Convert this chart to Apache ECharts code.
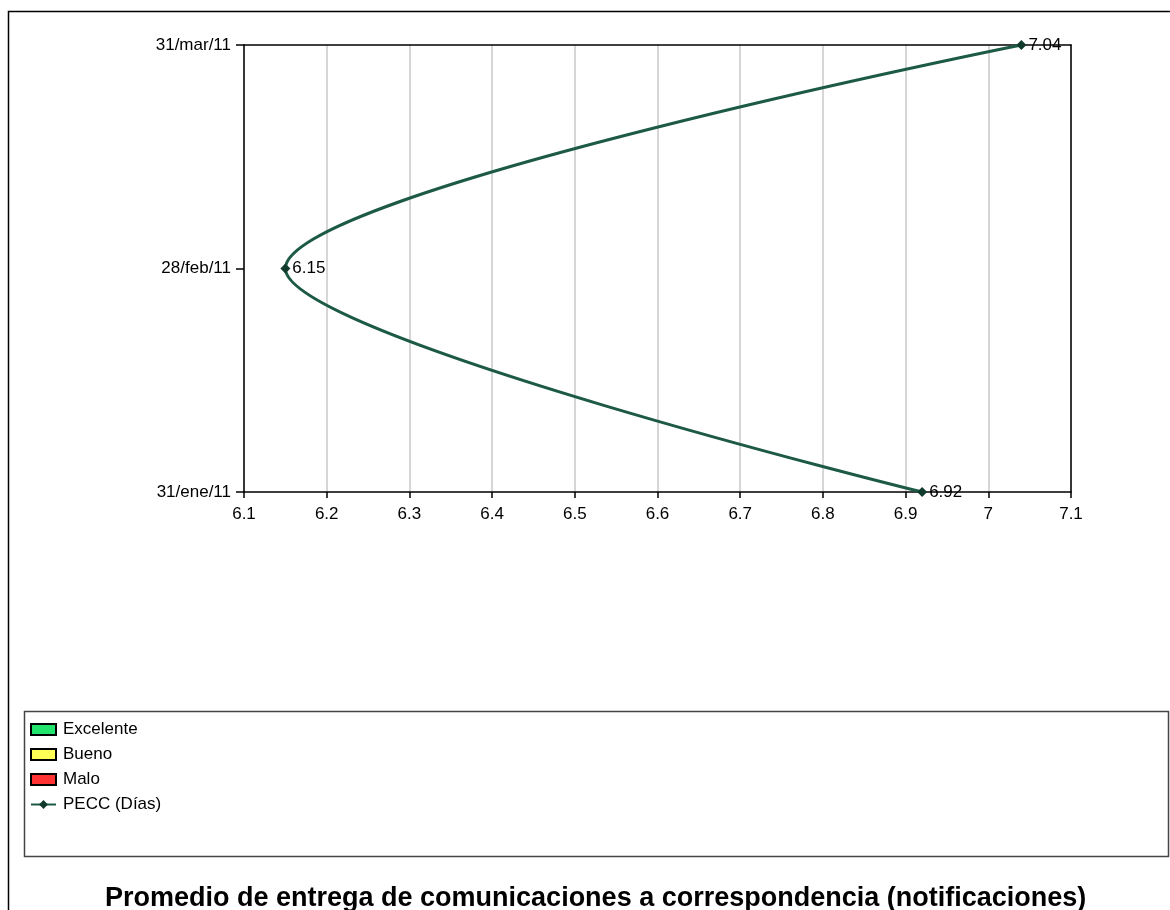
<!DOCTYPE html>
<html>
<head>
<meta charset="utf-8">
<script src="https://cdn.jsdelivr.net/npm/echarts@6/dist/echarts.min.js"></script>
<style>
  html, body { margin: 0; padding: 0; background: #fff; }
  #chart { width: 1170px; height: 910px; }
</style>
</head>
<body>
<div id="chart"></div>
<script>
// Fechas de corte (eje vertical, de abajo hacia arriba)
const dates = ['31/ene/11', '28/feb/11', '31/mar/11'];
// Promedio de entrega en días
const peccValues = [6.92, 6.15, 7.04];
// Rango del eje de días
const xMin = 6.1, xMax = 7.1, xStep = 0.1;
// Franjas del semáforo (solo leyenda)
const bandNames = ['Excelente', 'Bueno', 'Malo'];
const bandColors = ['#22e46c', '#ffff55', '#ff3333'];
const lineName = 'PECC (Días)';

const font = '"Liberation Sans", Arial, sans-serif';
const labelSize = 17;
const chart = echarts.init(document.getElementById('chart'), null, { renderer: 'canvas' });

const bandSeries = bandNames.map((n, i) => ({
  name: n,
  type: 'bar',
  data: [],
  itemStyle: { color: bandColors[i], borderColor: '#000', borderWidth: 1 }
}));

const frameLine = { show: true, onZero: false, lineStyle: { color: '#000', width: 1.5 } };

chart.setOption({
  animation: false,
  backgroundColor: '#fff',
  textStyle: { fontFamily: font },
  title: {
    text: 'Promedio de entrega de comunicaciones a correspondencia (notificaciones)',
    left: 100,
    top: 880,
    textStyle: { fontFamily: font, fontSize: 27, fontWeight: 'bold', color: '#000' }
  },
  graphic: [
    { type: 'rect', shape: { x: 8.5, y: 11.5, width: 1200, height: 950 },
      style: { fill: null, stroke: '#000', lineWidth: 1.5 }, silent: true, z: -1 },
    { type: 'rect', shape: { x: 24.5, y: 711.5, width: 1144, height: 145 },
      style: { fill: null, stroke: '#444', lineWidth: 1.5 }, silent: true, z: -1 }
  ],
  legend: {
    orient: 'vertical',
    left: 25,
    top: 716,
    itemWidth: 25,
    itemHeight: 11,
    itemGap: 8,
    textStyle: { fontFamily: font, fontSize: labelSize, color: '#000', padding: [0, 0, 0, 2] },
    data: bandNames.map(n => ({ name: n, icon: 'rect' })).concat([{ name: lineName }])
  },
  grid: { left: 244, right: 99, top: 45, bottom: 418, show: false },
  xAxis: [{
    type: 'value',
    min: xMin, max: xMax, interval: xStep,
    axisLine: frameLine,
    axisTick: { show: true, length: 6, lineStyle: { color: '#000', width: 1.5 } },
    axisLabel: {
      margin: 14, fontSize: labelSize, color: '#000', fontFamily: font,
      formatter: v => String(Math.round(v * 10) / 10)
    },
    splitLine: { show: true, lineStyle: { color: '#c8c8c8', width: 1.5 } }
  }, {
    type: 'value', position: 'top',
    min: xMin, max: xMax, interval: xStep,
    axisLine: frameLine,
    axisTick: { show: false }, axisLabel: { show: false }, splitLine: { show: false }
  }],
  yAxis: [{
    type: 'category',
    data: dates,
    boundaryGap: false,
    axisLine: frameLine,
    axisTick: { show: true, length: 8, inside: false, lineStyle: { color: '#000', width: 1.5 } },
    axisLabel: { margin: 13, fontSize: labelSize, color: '#000', fontFamily: font },
    splitLine: { show: false }
  }, {
    type: 'category', position: 'right',
    data: dates,
    boundaryGap: false,
    axisLine: frameLine,
    axisTick: { show: false }, axisLabel: { show: false }, splitLine: { show: false }
  }],
  series: bandSeries.concat([{
    name: lineName,
    type: 'line',
    smooth: 0.32,
    data: peccValues.map((v, i) => [v, dates[i]]),
    symbol: 'diamond',
    symbolSize: 10,
    lineStyle: { color: '#1d5a46', width: 3 },
    itemStyle: { color: '#0f3a2c' },
    label: {
      show: true, position: 'right', distance: 2,
      fontSize: labelSize, color: '#000', fontFamily: font,
      formatter: p => p.value[0].toFixed(2)
    },
    z: 5
  }])
});
</script>
</body>
</html>
